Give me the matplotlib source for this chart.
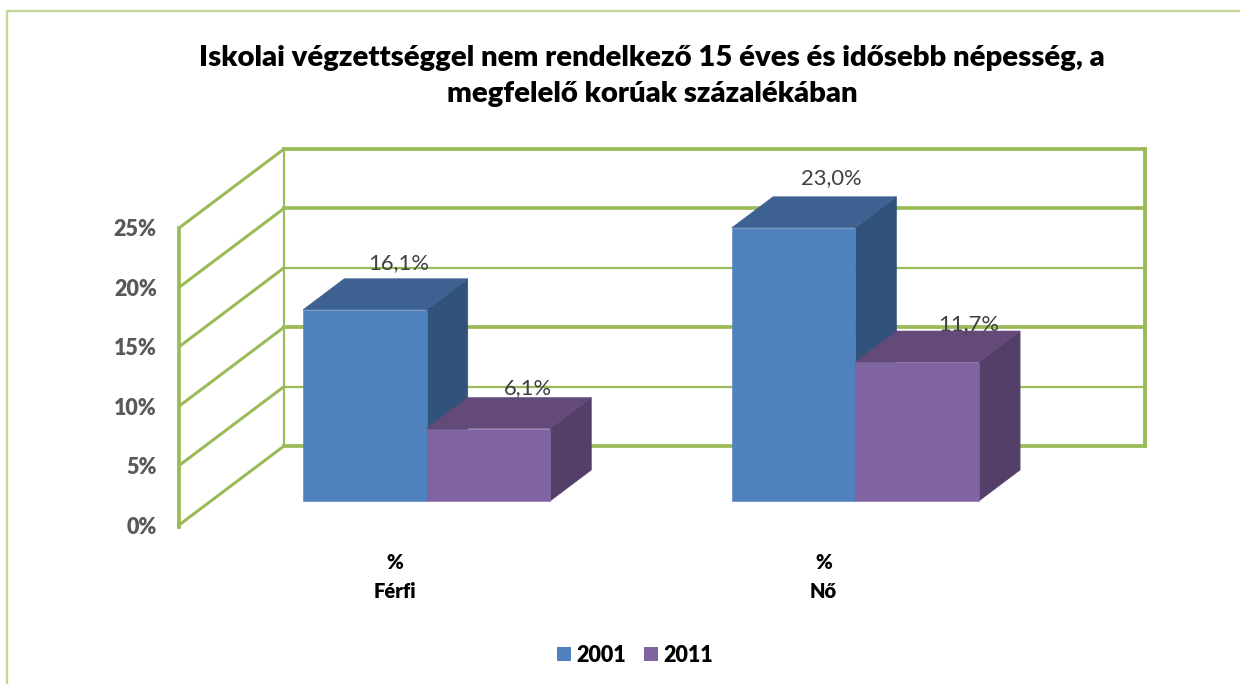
import matplotlib
matplotlib.use("Agg")
import matplotlib.pyplot as plt
from matplotlib.lines import Line2D
from matplotlib.patches import Patch

categories = ["%\nFérfi", "%\nNő"]
category_positions = [0.001, 0.997]
years = ["2001", "2011"]
values_2001 = [16.1, 23.0]
values_2011 = [6.1, 11.7]
y_ticks = [0, 5, 10, 15, 20, 25]
y_tick_labels = ["0%", "5%", "10%", "15%", "20%", "25%"]
title = "Iskolai végzettséggel nem rendelkező 15 éves és idősebb népesség, a\nmegfelelő korúak százalékában"

W, H = 1240, 684
FONT = "Lato"
HEAVY_WEIGHT = 800
GREEN = "#9BBB59"
BORDER = "#C3D69B"
TEXT_GREY = "#595959"
LABEL_GREY = "#404040"
BLUE = ("#4F81BD", "#3D6190", "#31527A")
PURPLE = ("#8064A2", "#634A78", "#533F68")

plt.rcParams["font.family"] = [FONT, "DejaVu Sans"]
fig = plt.figure(figsize=(W / 100, H / 100), dpi=100, facecolor="white")
ax = fig.add_axes([179 / W, 1 - 525 / H, 861 / W, 297 / H])
ax.set_xlim(-0.5, 1.5)
ax.set_ylim(0, 25)
ax.patch.set_visible(False)

# Oblique projection: shift per unit of depth, in data units
DX = 105 / 430.5
DY = 79 / 11.88
BAR_WIDTH = 0.287
D0, D1 = 0.304, 0.696


def project(x, y, d):
    return x + DX * d, y + DY * d


def line3d(p, q, lw):
    a, b = project(*p), project(*q)
    ax.plot([a[0], b[0]], [a[1], b[1]], color=GREEN, lw=lw, clip_on=False,
            solid_capstyle="projecting", zorder=1)


# Walls
HEAVY = {0, 10, 20, 25}
for v in y_ticks:
    line3d((-0.5, v, 1), (1.5, v, 1), 2.7 if v in HEAVY else 1.6)
    line3d((-0.5, v, 0), (-0.5, v, 1), 2.2)
line3d((-0.5, 0, 1), (-0.5, 25, 1), 1.5)
line3d((1.5, 0, 1), (1.5, 25, 1), 2.8)
line3d((-0.5, 0, 0), (-0.5, 25, 0), 2.7)
line3d((-0.5, -0.2, 0), (-0.5, 0, 0), 2.7)


def bar3d(x0, h, colors, z):
    x1 = x0 + BAR_WIDTH
    faces = [
        ([(x1, 0, D0), (x1, 0, D1), (x1, h, D1), (x1, h, D0)], colors[2]),
        ([(x0, h, D0), (x1, h, D0), (x1, h, D1), (x0, h, D1)], colors[1]),
        ([(x0, 0, D0), (x1, 0, D0), (x1, h, D0), (x0, h, D0)], colors[0]),
    ]
    for pts, c in faces:
        xy = [project(*p) for p in pts]
        ax.fill([p[0] for p in xy], [p[1] for p in xy], facecolor=c,
                edgecolor=c, lw=0.4, clip_on=False, zorder=z)


label_offsets = {0: [(34, 47), (40, 40)], 1: [(38, 50), (52, 38)]}
for i, cx in enumerate(category_positions):
    for j, (vals, cols) in enumerate(((values_2001, BLUE), (values_2011, PURPLE))):
        x0 = cx - BAR_WIDTH + j * BAR_WIDTH
        h = vals[i]
        bar3d(x0, h, cols, 3 + i + j * 0.1)
        fx, fy = project(x0 + BAR_WIDTH / 2, h, D0)
        ox, oy = label_offsets[i][j]
        ax.annotate(f"{h:.1f}%".replace(".", ","), (fx, fy),
                    xytext=(ox * 0.72, oy * 0.72), textcoords="offset points",
                    ha="center", va="center", fontsize=15.8, color=LABEL_GREY,
                    annotation_clip=False, zorder=10)

# Axes ticks
for s in ax.spines.values():
    s.set_visible(False)
ax.set_yticks(y_ticks)
ax.set_yticklabels(y_tick_labels, fontsize=15.5, fontweight=HEAVY_WEIGHT, color=TEXT_GREY)
ax.set_xticks(category_positions)
ax.set_xticklabels(categories, fontsize=14.5, fontweight=HEAVY_WEIGHT, color="black",
                   linespacing=1.62)
ax.tick_params(axis="y", length=0, pad=16)
ax.tick_params(axis="x", length=0, pad=20)

fig.suptitle(title, x=652 / W, y=1 - 45 / H, va="top", ha="center", fontsize=21.05,
             fontweight=HEAVY_WEIGHT, color="black", linespacing=1.48)

ax.legend(handles=[Patch(facecolor=BLUE[0], label=years[0]),
                   Patch(facecolor=PURPLE[0], label=years[1])],
          loc="center", bbox_to_anchor=(635 / W, 1 - 655 / H),
          bbox_transform=fig.transFigure, ncol=2, frameon=False,
          prop={"family": FONT, "weight": HEAVY_WEIGHT, "size": 15.5},
          handlelength=0.65, handleheight=0.65, handletextpad=0.25, columnspacing=0.85,
          labelcolor="black")

# Outer chart frame
fig.add_artist(Line2D([7 / W, 7 / W, 1], [0, 1 - 11 / H, 1 - 11 / H], color=BORDER,
                      lw=1.7, transform=fig.transFigure))

fig.savefig("out.png", dpi=100, facecolor="white")
